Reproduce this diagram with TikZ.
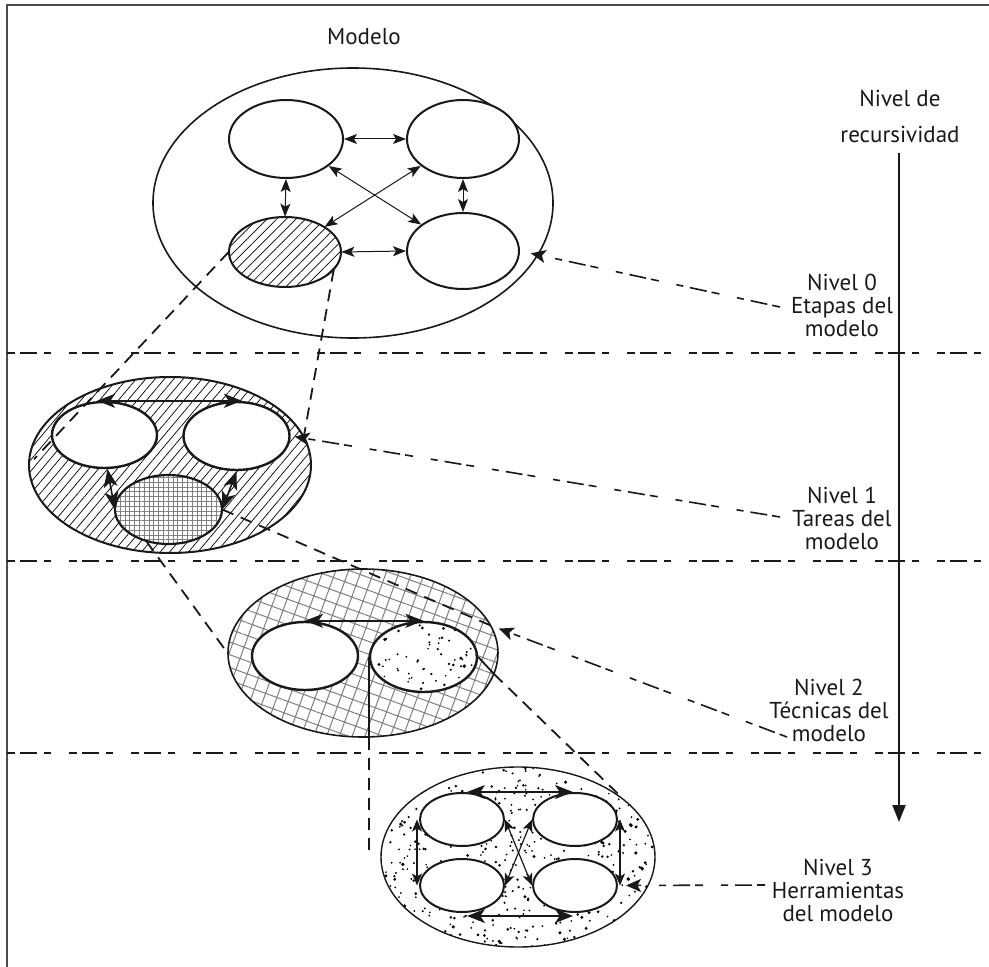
\documentclass[tikz,border=0pt]{standalone}
\usepackage{fontspec}
\setmainfont{PT Sans}
\usetikzlibrary{shapes.geometric,arrows.meta,patterns.meta}
\begin{document}
\begin{tikzpicture}[x=0.5pt,y=-0.5pt,
  ell/.style 2 args={ellipse, inner sep=0pt, minimum width=#1pt, minimum height=#2pt},
  rim/.style={draw=black!90, line width=0.8pt},
  cell/.style={draw=black!90, line width=1pt, fill=white},
  boldcell/.style={draw=black!90, line width=1.2pt, fill=white},
  frameline/.style={draw=black!70, line width=0.7pt},
  divider/.style={line width=1pt, draw=black!90,
    dash pattern=on 4pt off 2.5pt on 8.5pt off 3.5pt on 3.5pt off 9pt},
  labline/.style={line width=0.8pt, draw=black!90,
    dash pattern=on 4pt off 2.5pt on 8.5pt off 3.5pt on 3.5pt off 9pt,
    -{Stealth[length=7.5pt,width=6.5pt,inset=1.8pt]}},
  proj/.style={line width=0.9pt, draw=black!90, dash pattern=on 6pt off 4pt},
  projsolid/.style={line width=0.9pt, draw=black!90},
  linkA/.style={line width=0.5pt, draw=black!90,
    {Stealth[length=6.5pt,width=5pt,inset=1.5pt]}-{Stealth[length=6.5pt,width=5pt,inset=1.5pt]}},
  linkB/.style={line width=0.8pt, draw=black!90,
    {Stealth[length=9pt,width=7pt,inset=2.3pt]}-{Stealth[length=9pt,width=7pt,inset=2.3pt]}},
  linkC/.style={line width=0.6pt, draw=black!90,
    {Stealth[length=6pt,width=5pt,inset=1.5pt]}-{Stealth[length=6pt,width=5pt,inset=1.5pt]}},
  axisline/.style={line width=1.1pt, draw=black!90, -{Triangle[length=8.5pt,width=6.5pt]}},
  txt/.style={font=\fontsize{11.5}{11.5}\selectfont, text=black!90, inner sep=0pt, align=center},
  speckle/.style n args={3}{path picture={
    \foreach \k in {1,...,#1}{
      \fill[black] ([shift={({rand*#2pt},{rand*#3pt})}]path picture bounding box.center)
        circle[radius={(0.45+0.55*rnd*rnd)*1pt}];}}}
]
\pgfmathsetseed{4242}
\useasboundingbox (0,0) rectangle (989,967);

% frame (top and left edges)
\coordinate (fTL) at (7,5);
\coordinate (fTR) at (989,5);
\coordinate (fBL) at (7,967);
\draw[frameline] (fTR) -- (fTL) -- (fBL);

% level separators
\foreach \yy/\nm in {353/d1,561/d2,753/d3}{
  \coordinate (\nm a) at (7,\yy);
  \coordinate (\nm b) at (989,\yy);
  \draw[divider] (\nm a) -- (\nm b);
}

% recursion axis
\node[txt] (niv) at (900,98) {Nivel de};
\node[txt] (rec) at (900,135) {recursividad};
\coordinate (axTop) at (899,153);
\coordinate (axEnd) at (899,822);
\draw[axisline] (axTop) -- (axEnd);

% ---------------- level 0 : model ----------------
\node[txt] (mod) at (364,37) {Modelo};
\node[ell={200}{135}, rim] (M) at (353,203) {};
\node[ell={57}{39}, cell] (A) at (286,139) {};
\node[ell={56}{39}, cell] (B) at (463,139) {};
\node[ell={56}{35}, draw=black!90, line width=1pt, preaction={fill=white},
      pattern={Lines[angle=45,distance=3.4pt,line width=0.35pt]}] (C) at (285,252) {};
\node[ell={56}{38}, cell] (D) at (463,251) {};
\draw[linkA] (A.east) -- (B.west);
\draw[linkA] (C.east) -- (D.west);
\draw[linkA] (A.south) -- (C.north);
\draw[linkA] (B.south) -- (D.north);
\draw[linkA] (A) -- (D);
\draw[linkA] (B) -- (C);

% ---------------- level 1 : tasks ----------------
\node[ell={141}{88}, draw=black!90, line width=1pt,
      pattern={Lines[angle=50,distance=3.6pt,line width=0.35pt]}] (T) at (170,465) {};
\node[ell={52.5}{33}, boldcell] (L1) at (104.5,435) {};
\node[ell={53}{34}, boldcell] (R1) at (236.5,436) {};
\node[ell={53.5}{34.5}, draw=black!90, line width=1.1pt, preaction={fill=white},
      pattern={Hatch[angle=0,distance=2.4pt,line width=0.3pt]}, pattern color=black!50] (B1) at (168.5,509.5) {};
\draw[linkB] ([xshift=-3.75pt]L1.north) -- ([xshift=2.75pt]R1.north);
\draw[linkB] ([xshift=1.5pt]L1.south) -- (B1.west);
\draw[linkB] (R1.south) -- (B1.east);

% ---------------- level 2 : techniques ----------------
\node[ell={135}{84}, draw=black!90, line width=0.8pt, preaction={fill=white},
      pattern={Hatch[angle=-20,distance=6pt,line width=0.5pt]}, pattern color=black!50] (Q) at (363,653) {};
\node[ell={53}{34}, boldcell] (L2) at (305,656) {};
\node[ell={53.5}{35}, boldcell, speckle={75}{28}{18}] (R2) at (423.5,657) {};
\draw[linkB] (L2.north) -- (R2.north);

% ---------------- level 3 : tools ----------------
\node[ell={137}{90}, draw=black!90, line width=0.7pt, fill=white, speckle={600}{69}{46}] (H) at (518,857) {};
\node[ell={42}{26.5}, cell] (TL3) at (462,819.5) {};
\node[ell={42}{26.5}, cell] (TR3) at (575,819.5) {};
\node[ell={42}{26.5}, cell] (BL3) at (462,885.5) {};
\node[ell={42}{26.5}, cell] (BR3) at (575,885.5) {};
\draw[linkB] ([xshift=2.5pt]TL3.north) -- ([xshift=-1pt]TR3.north);
\draw[linkB] ([xshift=2.5pt,yshift=-1.5pt]BL3.south) -- ([xshift=-1pt,yshift=-1.5pt]BR3.south);
\draw[linkC] ([xshift=-1pt]TL3.west) -- ([xshift=-1pt]BL3.west);
\draw[linkC] ([xshift=1pt]TR3.east) -- ([xshift=1pt]BR3.east);
\draw[linkC] (TL3.east) -- (BR3.west);
\draw[linkC] (TR3.west) -- (BL3.east);

% ---------------- projections between levels ----------------
\draw[proj, shorten >=4pt] (C.west) -- (T.west);
\draw[proj] (C.-20) -- (T.12);
\draw[proj] (B1.235) -- (Q.west);
\draw[proj] (B1.east) -- (Q.12);
\coordinate (q1) at (R2.west |- Q.south);
\coordinate (q2) at (494,674);
\coordinate (q3) at (R2.west |- H.west);
\draw[projsolid] (R2.west) -- (q1);
\draw[proj] (q1) -- (q3);
\draw[projsolid] (R2.east) -- (q2);
\draw[proj] (q2) -- (H.30);

% ---------------- level labels ----------------
\node[txt] (n0) at (842,305) {Nivel 0\\Etapas del\\modelo};
\node[txt] (n1) at (842,518) {Nivel 1\\Tareas del\\modelo};
\node[txt] (n2) at (829,710) {Nivel 2\\Técnicas del\\modelo};
\node[txt] (n3) at (838,890) {Nivel 3\\Herramientas\\del modelo};
\coordinate (s0) at (780,307);
\coordinate (s1) at (780,517);
\coordinate (s2) at (787,737);
\coordinate (s3) at (765,885);
\draw[labline, shorten >=5.5pt] (s0) -- (D.east);
\draw[labline, shorten >=2pt] (s1) -- (R1.east);
\draw[labline, shorten >=4pt] (s2) -- (Q.12);
\draw[labline, shorten >=4pt] (s3) -- (BR3.east);
\end{tikzpicture}
\end{document}
